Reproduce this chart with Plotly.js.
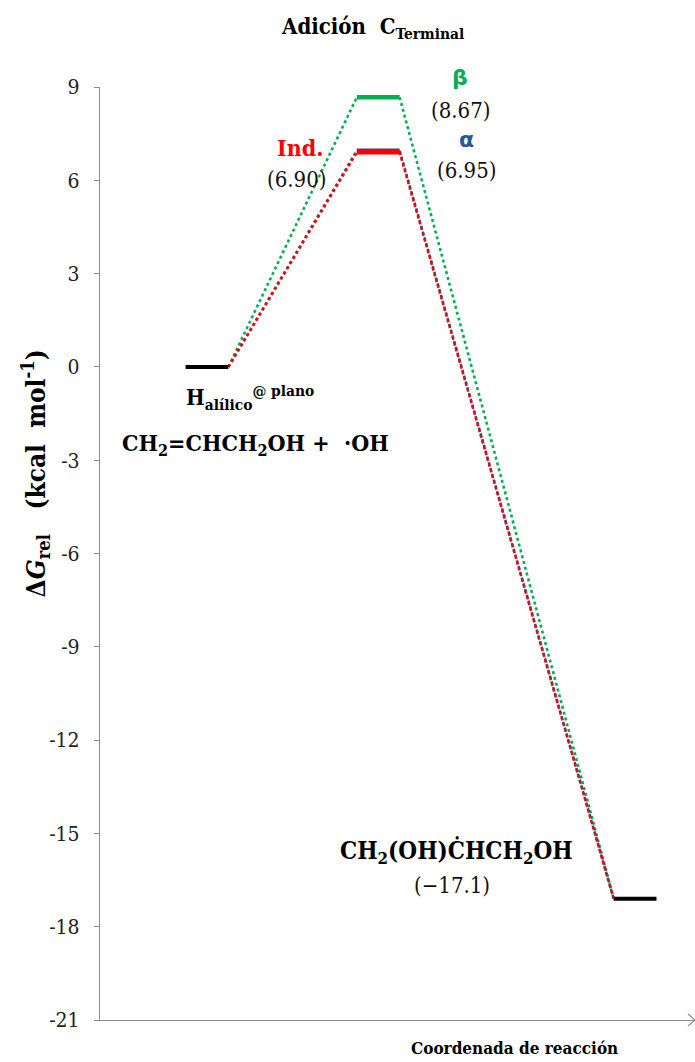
<!DOCTYPE html>
<html>
<head>
<meta charset="utf-8">
<script src="https://cdn.plot.ly/plotly-3.0.1.min.js"></script>
<style>html,body{margin:0;padding:0;background:#fff;}#chart{width:695px;height:1062px;}</style>
</head>
<body>
<div id="chart"></div>
<script>
// ---- data ----
const stageNames = ['Reactivos', 'Estado de transición', 'Producto'];
const stageStart = [2, 6, 12];
const stageEnd = [3, 7, 13];
const reactantG = 0;
const productG = -17.1;
const pathNames = ['β', 'α', 'Ind.'];
const tsValues = [8.67, 6.95, 6.90];
const pathColors = ['#00B050', '#2E4A8A', '#FF0000'];
const yTickVals = [-21, -18, -15, -12, -9, -6, -3, 0, 3, 6, 9];
const yTickText = ['-21', '-18', '-15', '-12', '-9', '-6', '-3', '0', '3', '6', '9'];

const serif = "'DejaVu Serif Condensed', 'DejaVu Serif', serif";
const sans = "'DejaVu Sans', sans-serif";
const traces = [];

// dotted connectors per path
pathNames.forEach((name, i) => {
  traces.push({
    x: [stageEnd[0], stageStart[1], null, stageEnd[1], stageStart[2]],
    y: [reactantG, tsValues[i], null, tsValues[i], productG],
    mode: 'lines', line: {color: pathColors[i], width: 2.6, dash: 'dot'},
    hoverinfo: 'skip', showlegend: false, name: name
  });
});
// TS levels
pathNames.forEach((name, i) => {
  traces.push({
    x: [stageStart[1], stageEnd[1]], y: [tsValues[i], tsValues[i]],
    mode: 'lines', line: {color: pathColors[i], width: 4.5},
    showlegend: false, name: name
  });
});
// reactant and product levels
traces.push({x: [stageStart[0], stageEnd[0]], y: [reactantG, reactantG], mode: 'lines',
  line: {color: '#000', width: 4}, showlegend: false, name: stageNames[0]});
traces.push({x: [stageStart[2], stageEnd[2]], y: [productG, productG], mode: 'lines',
  line: {color: '#000', width: 4}, showlegend: false, name: stageNames[2]});

function ann(text, x, y, size, color, family, extra) {
  return Object.assign({text: text, x: x, y: y, xref: 'x', yref: 'y', showarrow: false,
    xanchor: 'center', yanchor: 'middle',
    font: {size: size, color: color || '#000', family: family || serif}}, extra || {});
}

const annotations = [
  ann('<b>' + pathNames[0] + '</b>', 8.41, 1.0097, 22, pathColors[0], sans, {yref: 'paper'}),
  ann('(' + tsValues[0].toFixed(2) + ')', 8.43, 8.26, 22, '#111'),
  ann('<b>' + pathNames[1] + '</b>', 8.57, 7.30, 22, '#2F5597', sans),
  ann('(' + tsValues[1].toFixed(2) + ')', 8.57, 6.33, 22, '#111'),
  ann('<b>' + pathNames[2] + '</b>', 4.67, 7.04, 23, pathColors[2]),
  ann('(' + tsValues[2].toFixed(2) + ')', 4.60, 6.01, 22, '#111'),
  ann('<b>H<sub>alílico</sub><sup>@ plano</sup></b>', 3.5, -1.0, 22, '#000'),
  ann('<b>CH<sub>2</sub>=CHCH<sub>2</sub>OH +  ·OH</b>', 3.64, -2.51, 23, '#000'),
  ann('<b>CH<sub>2</sub>(OH)ĊHCH<sub>2</sub>OH</b>', 8.32, -15.6, 24, '#000'),
  ann('(−' + Math.abs(productG).toFixed(1) + ')', 8.22, -16.66, 22, '#111'),
  {text: '<b>Coordenada de reacción</b>', xref: 'paper', yref: 'paper', x: 0.697, y: -0.030,
    showarrow: false, xanchor: 'center', yanchor: 'middle', font: {size: 17, family: serif, color: '#000'}},
  {text: '<b>Δ<i>G</i><sub>rel</sub>   (kcal  mol<sup>-1</sup>)</b>', xref: 'paper', yref: 'paper',
    x: -0.109, y: 0.586, textangle: -90, showarrow: false, xanchor: 'center', yanchor: 'middle',
    font: {size: 26, family: serif, color: '#000'}}
];

const layout = {
  width: 695, height: 1062,
  margin: {l: 100, r: 0, t: 87, b: 42},
  paper_bgcolor: '#fff', plot_bgcolor: '#fff',
  font: {family: serif},
  title: {text: '<b>Adición  C<sub>Terminal</sub></b>', x: 0.537, y: 0.975, xanchor: 'center', yanchor: 'middle',
    font: {size: 22, family: serif, color: '#000'}},
  xaxis: {range: [0, 13.9], showgrid: false, zeroline: false, showticklabels: false, ticks: '',
    showline: true, linecolor: '#8c8c8c', linewidth: 1.2, fixedrange: true},
  yaxis: {range: [-21, 9], tickvals: yTickVals, ticktext: yTickText, showgrid: false, zeroline: false,
    ticks: 'outside', ticklen: 5, tickcolor: '#8c8c8c', showline: true, linecolor: '#8c8c8c', linewidth: 1.2,
    ticklabelstandoff: 10, tickfont: {size: 21, family: serif, color: '#222'}, fixedrange: true},
  shapes: [
    {type: 'line', xref: 'paper', yref: 'paper', xsizemode: 'pixel', ysizemode: 'pixel', xanchor: 1, yanchor: 0,
      x0: -7, x1: 0, y0: 6, y1: 0, line: {color: '#8c8c8c', width: 1.2}},
    {type: 'line', xref: 'paper', yref: 'paper', xsizemode: 'pixel', ysizemode: 'pixel', xanchor: 1, yanchor: 0,
      x0: -7, x1: 0, y0: -6, y1: 0, line: {color: '#8c8c8c', width: 1.2}}
  ],
  annotations: annotations,
  showlegend: false
};

Plotly.newPlot('chart', traces, layout, {staticPlot: true});
</script>
</body>
</html>
